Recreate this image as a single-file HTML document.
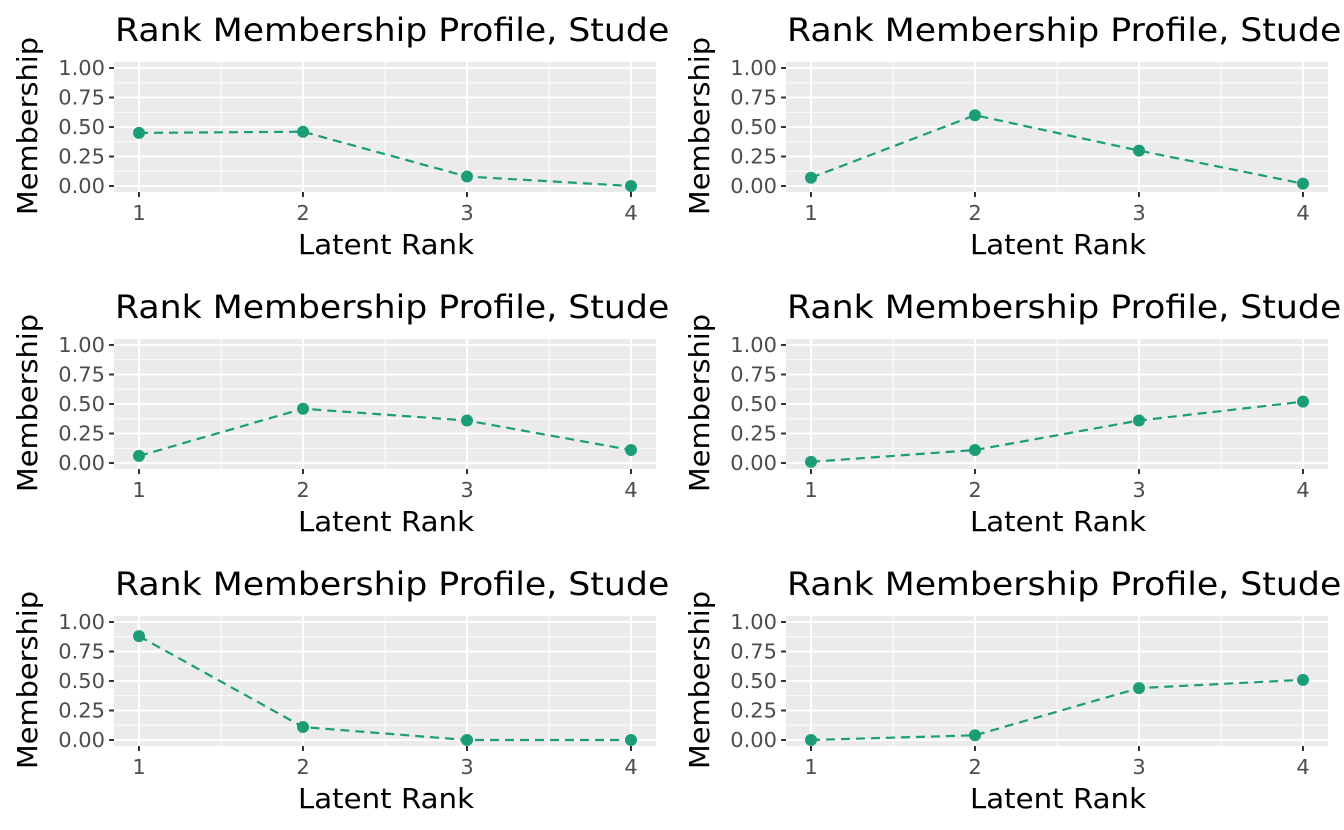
<!DOCTYPE html>
<html><head><meta charset="utf-8"><style>
html,body{margin:0;padding:0;background:#fff;}
svg{display:block;font-family:"DejaVu Sans","Liberation Sans",sans-serif;}
</style></head><body>
<svg id="s" width="1344" height="830" viewBox="0 0 1344 830" xmlns="http://www.w3.org/2000/svg"></svg>
<script>
const data=[[.45,.46,.08,0],[.07,.60,.30,.02],[.06,.46,.36,.11],[.01,.11,.36,.52],[.88,.11,0,0],[0,.04,.44,.51]];
let h='';
data.forEach((d,i)=>{
 const ox=(i%2)*672, oy=Math.floor(i/2)*277;
 const X=v=>ox+139+(v-1)*164, Y=v=>oy+186-v*118;
 h+=`<svg x="${ox}" y="${oy}" width="672" height="277" overflow="hidden"><text transform="translate(115,41) scale(1.085,1)" font-size="32" fill="#000">Rank Membership Profile, Student</text></svg>`;
 h+=`<rect x="${ox+114}" y="${oy+62}" width="542" height="130" fill="#ebebeb"/>`;
 for(let v=0.125;v<1;v+=0.25) h+=`<line x1="${ox+114}" x2="${ox+656}" y1="${Y(v)}" y2="${Y(v)}" stroke="#fff" stroke-width="1"/>`;
 for(let v=1.5;v<4;v+=1) h+=`<line x1="${X(v)}" x2="${X(v)}" y1="${oy+62}" y2="${oy+192}" stroke="#fff" stroke-width="1"/>`;
 for(let v=0;v<=1;v+=0.25){h+=`<line x1="${ox+114}" x2="${ox+656}" y1="${Y(v)}" y2="${Y(v)}" stroke="#fff" stroke-width="2"/><line x1="${ox+109}" x2="${ox+114}" y1="${Y(v)}" y2="${Y(v)}" stroke="#333" stroke-width="2"/><text transform="translate(${ox+105},${Y(v)+7}) scale(1.05,1)" font-size="20" fill="#4d4d4d" text-anchor="end">${v.toFixed(2)}</text>`;}
 for(let v=1;v<=4;v++){h+=`<line x1="${X(v)}" x2="${X(v)}" y1="${oy+62}" y2="${oy+192}" stroke="#fff" stroke-width="2"/><line x1="${X(v)}" x2="${X(v)}" y1="${oy+192}" y2="${oy+197}" stroke="#333" stroke-width="2"/><text transform="translate(${X(v)},${oy+220}) scale(1.05,1)" font-size="20" fill="#4d4d4d" text-anchor="middle">${v}</text>`;}
 h+=`<text transform="translate(${ox+386},${oy+254}) scale(1.045,1)" font-size="28" text-anchor="middle" fill="#000">Latent Rank</text>`;
 h+=`<text transform="translate(${ox+37},${oy+126}) rotate(-90) scale(1.03,1)" font-size="28" text-anchor="middle" fill="#000">Membership</text>`;
 h+=`<polyline points="${d.map((v,j)=>X(j+1)+','+Y(v)).join(' ')}" fill="none" stroke="#1b9e77" stroke-width="2.2" stroke-dasharray="9,6"/>`;
 d.forEach((v,j)=>h+=`<circle cx="${X(j+1)}" cy="${Y(v)}" r="6" fill="#1b9e77"/>`);
});
document.getElementById('s').innerHTML=h;
</script>
</body></html>
